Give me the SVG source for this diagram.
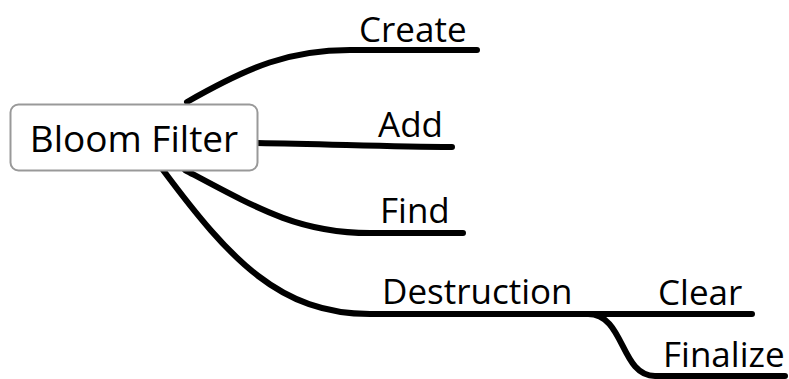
<svg xmlns="http://www.w3.org/2000/svg" width="789" height="379" viewBox="0 0 789 379">
<style>
.c{fill:none;stroke:#000;stroke-width:6;stroke-linecap:round;stroke-linejoin:round}
.t{font-family:"Open Sans","DejaVu Sans","Liberation Sans",sans-serif;font-size:35px;fill:#000}
.r{font-family:"Open Sans","DejaVu Sans","Liberation Sans",sans-serif;font-size:37px;fill:#000}
</style>
<rect width="789" height="379" fill="#fff"/>
<g id="connectors">
<path class="c" d="M187,102 C250,66 290,50 350,50 L477,50"/>
<path class="c" d="M257,143 C330,144 390,147 452,147"/>
<path class="c" d="M185,170 C260,210 300,233 370,233 L463,233"/>
<path class="c" d="M163,170 C230,260 280,314 370,314 L752,314"/>
<path class="c" d="M588,314 C625,314 620,376 655,376 L785,376"/>
</g>
<g id="root">
<rect x="10.5" y="104.5" width="247" height="66" rx="8" fill="#fff" stroke="#999" stroke-width="2"/>
<text class="r" x="134" y="152" text-anchor="middle">Bloom Filter</text>
</g>
<g id="create"><text class="t" x="359" y="42">Create</text></g>
<g id="add"><text class="t" x="378" y="137">Add</text></g>
<g id="find"><text class="t" x="380" y="223">Find</text></g>
<g id="destruction"><text class="t" x="382" y="304">Destruction</text></g>
<g id="clear"><text class="t" x="658" y="305">Clear</text></g>
<g id="finalize"><text class="t" x="663" y="367">Finalize</text></g>
</svg>
